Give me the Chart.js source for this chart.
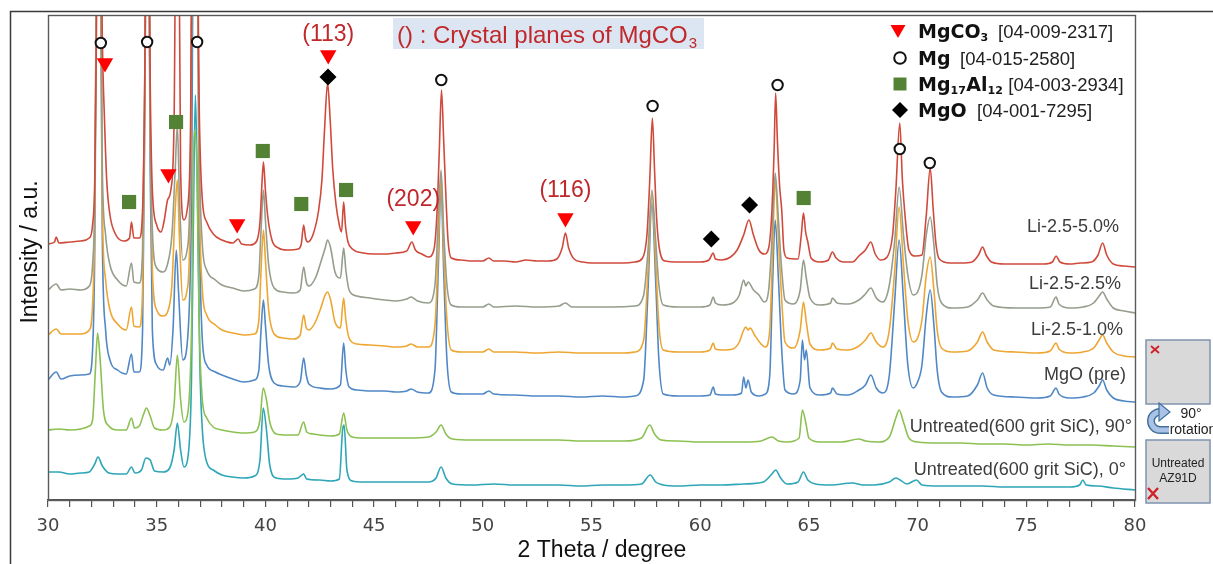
<!DOCTYPE html>
<html>
<head>
<meta charset="utf-8">
<script src="https://cdn.jsdelivr.net/npm/chart.js@4.4.1/dist/chart.umd.min.js"></script>
<style>
  html, body { margin: 0; padding: 0; background: #fff; }
  #wrap { width: 1213px; height: 564px; }
</style>
</head>
<body>
<div id="wrap"><canvas id="xrd" width="1213" height="564"></canvas></div>
<script>
// ---- XRD patterns: [2theta (deg), intensity (a.u., stacked)] ----
const li50 = [[30.0,256],[30.3,258],[30.38,263],[30.5,257],[31.0,258],[31.5,259],[31.9,262],[32.05,275],[32.15,320],[32.22,450],[32.3,620],[32.42,620],[32.5,460],[32.6,380],[32.7,320],[32.85,285],[33.1,266],[33.5,259],[33.75,262],[33.84,278],[33.95,262],[34.2,262],[34.35,290],[34.45,420],[34.53,640],[34.62,640],[34.7,420],[34.8,310],[35.0,275],[35.2,268],[35.35,280],[35.5,300],[35.65,310],[35.8,380],[35.9,620],[36.0,620],[36.1,330],[36.25,280],[36.4,290],[36.55,360],[36.65,620],[36.85,620],[36.95,400],[37.1,300],[37.3,278],[37.6,266],[38.0,260],[38.5,257],[38.75,261],[38.9,256],[39.3,255],[39.6,259],[39.75,278],[39.85,320],[39.91,338],[40.0,310],[40.1,285],[40.3,260],[40.6,252],[41.0,250],[41.5,251],[41.65,256],[41.76,275],[41.85,262],[41.95,258],[42.2,266],[42.45,290],[42.6,320],[42.72,370],[42.86,417],[42.98,380],[43.1,330],[43.25,295],[43.4,275],[43.5,268],[43.6,298],[43.68,275],[43.8,258],[44.0,251],[44.5,247],[45.0,246],[45.5,246],[46.0,247],[46.5,249],[46.74,258],[46.9,250],[47.2,246],[47.5,243],[47.75,250],[47.9,290],[48.0,350],[48.1,410],[48.2,360],[48.3,305],[48.4,260],[48.55,242],[49.0,240],[49.5,239],[50.0,239],[50.28,242],[50.5,239],[51.0,239],[51.5,238],[52.0,240],[52.5,239],[53.0,239],[53.4,241],[53.65,252],[53.8,267],[53.95,252],[54.2,241],[54.6,238],[55.0,237],[55.5,237],[56.0,237],[56.5,237],[57.0,238],[57.35,242],[57.55,265],[57.68,320],[57.8,382],[57.9,330],[58.0,280],[58.15,248],[58.4,239],[59.0,238],[59.5,238],[60.0,238],[60.4,240],[60.6,247],[60.7,241],[61.0,240],[61.4,243],[61.7,250],[62.0,265],[62.24,280],[62.45,265],[62.7,250],[62.95,246],[63.15,252],[63.3,290],[63.4,350],[63.47,407],[63.55,360],[63.65,315],[63.75,290],[63.85,250],[64.0,242],[64.5,241],[64.65,265],[64.75,287],[64.85,268],[64.95,258],[65.1,242],[65.5,238],[65.9,240],[66.08,248],[66.25,242],[66.6,238],[67.0,238],[67.3,244],[67.6,250],[67.85,258],[68.05,246],[68.3,240],[68.6,243],[68.85,265],[69.0,310],[69.18,377],[69.3,320],[69.42,285],[69.6,250],[69.9,244],[70.2,245],[70.4,285],[70.58,332],[70.72,290],[70.85,255],[71.0,241],[71.5,237],[72.0,237],[72.5,238],[72.8,245],[72.99,253],[73.15,245],[73.4,238],[74.0,236],[75.0,236],[75.8,236],[76.2,238],[76.37,244],[76.55,238],[77.0,236],[77.5,237],[78.0,238],[78.3,245],[78.51,257],[78.7,245],[79.0,236],[79.5,234],[80.0,233]];

const li25 = [[30.0,210],[30.38,216],[30.6,210],[31.0,211],[31.5,210],[31.9,214],[32.05,235],[32.15,300],[32.25,560],[32.4,560],[32.5,330],[32.65,265],[32.85,235],[33.2,220],[33.6,214],[33.84,237],[33.95,218],[34.2,217],[34.35,250],[34.45,420],[34.53,600],[34.62,600],[34.7,380],[34.8,270],[35.0,232],[35.3,228],[35.5,236],[35.7,265],[35.85,330],[35.95,375],[36.05,300],[36.2,240],[36.4,250],[36.55,330],[36.65,600],[36.85,600],[36.95,360],[37.1,255],[37.3,230],[37.7,220],[38.0,215],[38.5,212],[39.0,209],[39.5,211],[39.7,225],[39.8,270],[39.91,310],[40.0,280],[40.15,235],[40.4,212],[40.8,208],[41.3,207],[41.6,210],[41.76,233],[41.88,218],[42.0,214],[42.3,222],[42.55,238],[42.75,252],[42.86,260],[43.0,252],[43.2,228],[43.45,222],[43.6,252],[43.7,230],[43.85,210],[44.2,204],[44.8,202],[45.5,200],[46.0,199],[46.5,201],[46.7,203],[47.0,199],[47.5,197],[47.8,215],[47.95,280],[48.08,330],[48.2,270],[48.35,215],[48.55,195],[49.0,193],[50.0,193],[50.28,196],[50.5,193],[51.5,194],[52.5,193],[53.5,194],[53.8,197],[54.1,193],[55.0,193],[56.0,193],[57.0,194],[57.4,205],[57.6,250],[57.78,310],[57.95,260],[58.1,215],[58.3,195],[59.0,193],[60.0,193],[60.45,195],[60.6,203],[60.7,197],[61.0,195],[61.5,197],[61.8,205],[62.0,220],[62.1,214],[62.2,218],[62.45,210],[62.7,205],[62.95,198],[63.15,210],[63.3,260],[63.45,327],[63.6,280],[63.75,230],[63.9,200],[64.3,196],[64.6,210],[64.75,240],[64.88,222],[65.05,202],[65.5,195],[66.0,197],[66.08,202],[66.3,197],[66.8,196],[67.3,200],[67.6,206],[67.85,212],[68.1,202],[68.4,198],[68.7,215],[68.95,260],[69.15,313],[69.35,265],[69.55,225],[69.8,205],[70.0,208],[70.2,225],[70.4,265],[70.58,283],[70.75,255],[70.9,215],[71.1,197],[71.6,192],[72.3,193],[72.75,200],[72.99,207],[73.2,200],[73.5,194],[74.5,192],[75.5,192],[76.1,193],[76.37,203],[76.5,196],[77.0,192],[77.6,193],[78.1,197],[78.35,204],[78.51,208],[78.7,201],[79.0,192],[79.5,189],[80.0,187]];

const li10 = [[30.0,165],[30.38,171],[30.6,166],[31.0,166],[31.5,166],[31.9,170],[32.05,195],[32.15,280],[32.25,560],[32.4,560],[32.5,290],[32.65,220],[32.85,190],[33.2,176],[33.6,170],[33.84,193],[33.95,174],[34.2,173],[34.35,210],[34.45,400],[34.53,600],[34.62,600],[34.7,370],[34.8,230],[35.0,190],[35.3,184],[35.5,188],[35.7,215],[35.85,290],[35.95,320],[36.05,260],[36.2,200],[36.4,210],[36.55,300],[36.65,600],[36.85,600],[36.95,320],[37.1,210],[37.3,185],[37.7,175],[38.0,170],[38.5,167],[39.0,165],[39.5,166],[39.7,180],[39.8,230],[39.91,270],[40.0,240],[40.15,190],[40.4,166],[40.8,162],[41.3,161],[41.6,165],[41.76,185],[41.88,172],[42.0,170],[42.3,178],[42.55,192],[42.75,205],[42.86,208],[43.0,200],[43.2,178],[43.45,172],[43.6,202],[43.7,180],[43.85,162],[44.2,156],[44.8,155],[45.5,154],[46.0,153],[46.5,154],[46.7,156],[47.0,153],[47.5,153],[47.8,175],[47.95,250],[48.08,325],[48.2,250],[48.35,180],[48.55,150],[49.0,148],[50.0,148],[50.28,151],[50.5,148],[51.5,148],[52.5,147],[53.5,148],[54.5,147],[55.5,147],[56.5,147],[57.0,148],[57.4,160],[57.6,230],[57.78,307],[57.95,240],[58.1,175],[58.3,150],[59.0,148],[60.0,148],[60.45,150],[60.6,157],[60.7,151],[61.0,150],[61.5,151],[61.8,158],[62.0,170],[62.1,173],[62.2,170],[62.3,172],[62.5,165],[62.8,156],[63.0,153],[63.2,170],[63.32,240],[63.45,320],[63.6,260],[63.75,200],[63.9,158],[64.3,152],[64.6,170],[64.75,198],[64.88,178],[65.05,156],[65.5,150],[66.0,152],[66.08,157],[66.3,151],[66.8,150],[67.3,154],[67.6,160],[67.85,167],[68.1,158],[68.4,153],[68.7,170],[68.95,230],[69.15,293],[69.35,235],[69.55,180],[69.8,158],[70.0,162],[70.2,180],[70.4,225],[70.58,243],[70.75,210],[70.9,170],[71.1,152],[71.6,148],[72.3,149],[72.75,158],[72.99,168],[73.2,158],[73.5,150],[74.5,148],[75.5,147],[76.1,149],[76.37,157],[76.5,151],[77.0,147],[77.6,148],[78.1,152],[78.35,160],[78.51,165],[78.7,157],[79.0,148],[79.5,144],[80.0,143]];

const mgoPre = [[30.0,120],[30.38,128],[30.6,121],[31.0,124],[31.5,125],[31.9,126],[32.05,150],[32.15,250],[32.25,560],[32.4,560],[32.5,260],[32.65,170],[32.85,140],[33.2,130],[33.6,126],[33.84,146],[33.95,128],[34.2,128],[34.35,170],[34.45,380],[34.53,600],[34.62,600],[34.7,330],[34.8,170],[35.0,135],[35.3,130],[35.5,142],[35.6,135],[35.75,170],[35.9,250],[36.0,210],[36.2,140],[36.45,170],[36.6,300],[36.7,600],[36.85,600],[36.95,300],[37.1,160],[37.3,135],[37.7,128],[38.0,125],[38.5,121],[39.0,118],[39.5,120],[39.7,130],[39.8,170],[39.91,200],[40.0,175],[40.15,135],[40.4,117],[40.8,114],[41.3,113],[41.6,118],[41.76,142],[41.88,125],[42.0,116],[42.5,112],[43.0,111],[43.45,115],[43.6,157],[43.7,130],[43.85,113],[44.2,110],[44.8,109],[45.5,109],[46.0,108],[46.5,109],[46.7,111],[47.0,108],[47.5,107],[47.8,130],[47.95,230],[48.08,315],[48.2,230],[48.35,140],[48.55,108],[49.0,106],[50.0,106],[50.28,109],[50.5,106],[51.5,105],[52.5,104],[53.5,104],[54.5,103],[55.5,104],[56.5,103],[57.0,104],[57.4,120],[57.6,210],[57.78,297],[57.95,220],[58.1,140],[58.3,106],[59.0,104],[60.0,104],[60.45,105],[60.6,113],[60.7,106],[61.0,105],[61.5,105],[61.9,107],[62.0,123],[62.1,112],[62.2,120],[62.35,108],[62.7,104],[63.0,106],[63.2,125],[63.32,210],[63.45,280],[63.6,220],[63.75,150],[63.9,110],[64.3,106],[64.6,120],[64.7,160],[64.8,140],[64.88,150],[65.05,112],[65.5,105],[66.0,107],[66.08,112],[66.3,106],[66.8,105],[67.3,110],[67.6,115],[67.85,125],[68.1,112],[68.4,107],[68.7,125],[68.95,200],[69.15,260],[69.35,200],[69.55,135],[69.8,112],[70.0,118],[70.2,135],[70.4,185],[70.58,210],[70.75,175],[70.9,130],[71.1,108],[71.6,103],[72.3,104],[72.75,115],[72.99,127],[73.2,112],[73.5,105],[74.5,103],[75.5,102],[76.1,104],[76.37,112],[76.5,106],[77.0,102],[77.6,103],[78.1,107],[78.35,114],[78.51,120],[78.7,110],[79.0,102],[79.5,99],[80.0,98]];

const untreated90 = [[30.0,70],[30.5,71],[31.0,70],[31.5,71],[31.9,74],[32.05,80],[32.18,130],[32.28,167],[32.4,140],[32.55,90],[32.8,74],[33.2,70],[33.6,70],[33.84,82],[33.98,72],[34.2,74],[34.4,86],[34.53,92],[34.7,84],[34.9,72],[35.3,70],[35.6,73],[35.8,95],[35.95,145],[36.1,100],[36.25,78],[36.45,90],[36.6,170],[36.72,370],[36.85,330],[36.95,180],[37.1,100],[37.3,82],[37.6,73],[38.0,70],[38.5,68],[39.0,67],[39.5,68],[39.75,80],[39.9,112],[40.05,100],[40.2,78],[40.5,66],[41.0,65],[41.5,65],[41.76,78],[41.9,68],[42.2,66],[42.5,65],[43.0,64],[43.4,66],[43.6,87],[43.75,70],[44.0,63],[44.5,62],[45.5,62],[46.5,62],[47.5,63],[47.85,68],[48.08,75],[48.3,66],[48.6,61],[49.5,60],[50.5,60],[51.5,60],[52.5,60],[53.5,60],[54.5,59],[55.5,59],[56.5,59],[57.3,62],[57.68,75],[57.9,66],[58.2,60],[59.0,59],[60.0,58],[61.0,58],[62.0,58],[62.8,59],[63.3,63],[63.6,59],[64.0,58],[64.55,62],[64.7,90],[64.85,78],[65.0,62],[65.5,58],[66.5,58],[67.3,61],[67.6,59],[68.2,58],[68.7,63],[69.0,82],[69.15,90],[69.35,78],[69.6,62],[70.0,58],[71.0,57],[72.0,57],[73.0,56],[74.0,56],[75.0,55],[76.0,56],[77.0,55],[78.0,55],[79.0,54],[80.0,53]];

const untreated0 = [[30.0,28],[30.5,28],[31.0,26],[31.5,27],[31.9,28],[32.15,36],[32.3,43],[32.5,34],[32.8,27],[33.2,26],[33.6,26],[33.84,33],[34.0,27],[34.3,30],[34.5,42],[34.7,40],[34.9,29],[35.3,28],[35.6,32],[35.8,50],[35.95,77],[36.1,50],[36.25,33],[36.45,45],[36.6,120],[36.7,300],[36.78,405],[36.88,300],[36.98,140],[37.1,70],[37.3,38],[37.6,30],[38.0,25],[38.5,23],[39.0,22],[39.5,24],[39.75,40],[39.9,92],[40.05,70],[40.2,35],[40.5,22],[41.0,21],[41.5,22],[41.76,26],[41.9,21],[42.5,20],[43.0,19],[43.4,21],[43.55,70],[43.62,75],[43.75,30],[44.0,19],[44.5,18],[45.5,18],[46.5,18],[47.5,18],[47.85,22],[48.08,33],[48.3,22],[48.6,16],[49.5,15],[50.5,16],[51.5,15],[52.5,15],[53.5,15],[54.5,14],[55.5,15],[56.5,15],[57.3,16],[57.7,25],[57.95,18],[58.3,15],[59.0,14],[60.0,15],[61.0,15],[62.0,16],[62.9,18],[63.3,26],[63.47,30],[63.7,22],[64.0,16],[64.5,18],[64.75,28],[64.95,20],[65.3,16],[66.0,15],[67.0,17],[67.5,15],[68.0,15],[68.7,18],[69.0,22],[69.2,20],[69.5,16],[69.95,20],[70.2,15],[71.0,14],[72.0,14],[73.0,14],[74.0,13],[75.0,13],[76.0,13],[77.0,13],[77.45,15],[77.6,20],[77.75,15],[78.3,14],[79.0,12],[80.0,10]];

// ---- Phase markers: [2theta, height in a.u.] ----
const mgco3Marks = [[32.62,437],[35.54,326],[38.70,276],[42.89,445],[46.80,274],[53.80,282]];
const mgMarks = [[32.43,457],[34.56,458],[36.86,458],[48.09,420],[57.81,394],[63.56,415],[69.18,351],[70.56,337]];
const mg17al12Marks = [[33.73,298],[35.89,378],[39.88,349],[41.65,296],[43.71,310],[64.76,302]];
const mgoMarks = [[42.88,423],[60.51,261],[62.27,295]];

// ---- MgCO3 crystal-plane labels: [text, 2theta, height in a.u.] ----
const planeLabels = [['(113)',42.89,465],['(202)',46.80,300],['(116)',53.80,309]];

// ---- Sample names and legend entries ----
const sampleNames = ['Li-2.5-5.0%','Li-2.5-2.5%','Li-2.5-1.0%','MgO (pre)','Untreated(600 grit SiC), 90°','Untreated(600 grit SiC), 0°'];
const phaseNames = [['MgCO','3','',''],['Mg','','',''],['Mg','17','Al','12'],['MgO','','','']];
const pdfCards = ['[04-009-2317]','[04-015-2580]','[04-003-2934]','[04-001-7295]'];

const traceColors = ['#d04a3c','#959d8c','#eea633','#5088c6','#8cc152','#2ea6b7'];
const patterns = [li50, li25, li10, mgoPre, untreated90, untreated0];
const toXY = arr => arr.map(p => ({x: p[0], y: p[1]}));

const datasets = [];
// phase markers sit above the traces
datasets.push({type:'scatter', data: toXY(mgco3Marks), pointStyle:'triangle', rotation:180, radius:9.5,
  backgroundColor:'#ff0000', borderColor:'#ff0000', borderWidth:0, order:0});
datasets.push({type:'scatter', data: toXY(mgMarks), pointStyle:'circle', radius:5.2,
  backgroundColor:'#ffffff', borderColor:'#111111', borderWidth:2, order:0});
datasets.push({type:'scatter', data: toXY(mg17al12Marks), pointStyle:'rect', radius:10,
  backgroundColor:'#548235', borderColor:'#548235', borderWidth:0, order:0});
datasets.push({type:'scatter', data: toXY(mgoMarks), pointStyle:'rectRot', radius:8.5,
  backgroundColor:'#000000', borderColor:'#000000', borderWidth:0, order:0});
patterns.forEach((p, i) => {
  datasets.push({type:'line', label: sampleNames[i], data: toXY(p), borderColor: traceColors[i],
    borderWidth: 1.6, pointRadius: 0, cubicInterpolationMode: 'monotone', fill: false, order: i + 1});
});

// decorations: frames, texts, legend, specimen sketch
const decor = {
  id: 'decor',
  afterDraw(chart) {
    const ctx = chart.ctx, a = chart.chartArea;
    const sx = chart.scales.x, sy = chart.scales.y;
    ctx.save();

    // outer figure frame
    ctx.strokeStyle = '#3a3a3a'; ctx.lineWidth = 1.5;
    ctx.beginPath(); ctx.moveTo(10.5, 564); ctx.lineTo(10.5, 11.5); ctx.lineTo(1213, 11.5); ctx.stroke();
    // plot frame
    ctx.strokeStyle = '#5a5a5a'; ctx.lineWidth = 1.4;
    ctx.strokeRect(a.left + 0.5, a.top + 0.5, a.right - a.left, a.bottom - a.top);

    // axis titles
    ctx.fillStyle = '#111';
    ctx.font = '23px "Liberation Sans", Arial, sans-serif';
    ctx.textAlign = 'center'; ctx.textBaseline = 'middle';
    ctx.fillText('2 Theta / degree', 602, 551);
    ctx.save();
    ctx.translate(31, 252); ctx.rotate(-Math.PI / 2);
    ctx.fillText('Intensity / a.u.', 0, 0);
    ctx.restore();

    // crystal-plane note box
    ctx.fillStyle = '#dce6f2';
    ctx.fillRect(393, 18, 311, 31);
    ctx.fillStyle = '#c0282b';
    ctx.textAlign = 'left'; ctx.textBaseline = 'alphabetic';
    ctx.font = '24px "Liberation Sans", Arial, sans-serif';
    const note = '() : Crystal planes of MgCO';
    ctx.fillText(note, 397, 43);
    const nw = ctx.measureText(note).width;
    ctx.font = '15px "Liberation Sans", Arial, sans-serif';
    ctx.fillText('3', 397 + nw + 1, 48);

    // plane labels above MgCO3 markers
    ctx.font = '23px "Liberation Sans", Arial, sans-serif';
    ctx.textAlign = 'center'; ctx.textBaseline = 'middle';
    planeLabels.forEach(l => {
      ctx.fillText(l[0], sx.getPixelForValue(l[1]), sy.getPixelForValue(l[2]));
    });

    // sample names
    ctx.fillStyle = '#3c3c3c';
    ctx.font = '18px "Liberation Sans", Arial, sans-serif';
    ctx.textAlign = 'right';
    const nameX = [1119, 1121, 1123, 1126, 1132, 1126];
    const nameY = [227, 284, 330, 375, 427, 470];
    sampleNames.forEach((n, i) => ctx.fillText(n, nameX[i], nameY[i]));

    // legend
    const rows = [31, 58, 84, 110];
    const drawMark = (style, x, y) => {
      ctx.save();
      if (style === 0) {
        ctx.fillStyle = '#ff0000';
        ctx.beginPath(); ctx.moveTo(x - 7.5, y - 6); ctx.lineTo(x + 7.5, y - 6); ctx.lineTo(x, y + 7); ctx.closePath(); ctx.fill();
      } else if (style === 1) {
        ctx.strokeStyle = '#111'; ctx.lineWidth = 2; ctx.fillStyle = '#fff';
        ctx.beginPath(); ctx.arc(x, y, 5.8, 0, Math.PI * 2); ctx.fill(); ctx.stroke();
      } else if (style === 2) {
        ctx.fillStyle = '#548235'; ctx.fillRect(x - 6.5, y - 6.5, 13, 13);
      } else {
        ctx.fillStyle = '#000';
        ctx.beginPath(); ctx.moveTo(x, y - 8); ctx.lineTo(x + 8, y); ctx.lineTo(x, y + 8); ctx.lineTo(x - 8, y); ctx.closePath(); ctx.fill();
      }
      ctx.restore();
    };
    const cardX = [998, 960, 1008, 977];
    ctx.textAlign = 'left'; ctx.textBaseline = 'alphabetic';
    rows.forEach((y, i) => {
      drawMark(i, i === 0 ? 898 : 900, y);
      let x = 918;
      const parts = phaseNames[i];
      const base = y + 7;
      for (let k = 0; k < parts.length; k++) {
        if (!parts[k]) continue;
        const sub = (k % 2 === 1);
        ctx.fillStyle = '#111';
        ctx.font = sub ? 'bold 11px "DejaVu Sans", sans-serif' : 'bold 19px "DejaVu Sans", sans-serif';
        ctx.fillText(parts[k], x, sub ? base + 3 : base);
        x += ctx.measureText(parts[k]).width + (sub ? 0.5 : 0);
      }
      ctx.fillStyle = '#222';
      ctx.font = '18.5px "Liberation Sans", Arial, sans-serif';
      ctx.fillText(pdfCards[i], Math.max(cardX[i], x + 5), base);
    });

    // specimen sketch: two plates and a rotation arrow
    ctx.fillStyle = '#d9d9d9'; ctx.strokeStyle = '#7f93ad'; ctx.lineWidth = 1.5;
    ctx.fillRect(1146, 340, 64, 64); ctx.strokeRect(1146, 340, 64, 64);
    ctx.fillRect(1146, 440, 64, 63); ctx.strokeRect(1146, 440, 64, 63);
    ctx.strokeStyle = '#d0202a'; ctx.lineWidth = 1.8;
    ctx.beginPath(); ctx.moveTo(1151, 346); ctx.lineTo(1159, 353); ctx.moveTo(1159, 346); ctx.lineTo(1151, 353); ctx.stroke();
    ctx.lineWidth = 2.4;
    ctx.beginPath(); ctx.moveTo(1148, 488); ctx.lineTo(1158, 499); ctx.moveTo(1158, 488); ctx.lineTo(1148, 499); ctx.stroke();
    ctx.fillStyle = '#222';
    ctx.font = '12px "Liberation Sans", Arial, sans-serif';
    ctx.textAlign = 'center'; ctx.textBaseline = 'middle';
    ctx.fillText('Untreated', 1178, 464);
    ctx.fillText('AZ91D', 1178, 479);
    // curved arrow
    ctx.lineCap = 'butt';
    const arrowPath = () => {
      ctx.beginPath();
      ctx.arc(1160, 421, 9, -Math.PI / 2, Math.PI / 2, true);
      ctx.lineTo(1169, 430);
    };
    ctx.strokeStyle = '#41719c'; ctx.lineWidth = 8; arrowPath(); ctx.stroke();
    ctx.strokeStyle = '#a9c2e6'; ctx.lineWidth = 5; arrowPath(); ctx.stroke();
    ctx.fillStyle = '#a9c2e6'; ctx.strokeStyle = '#41719c'; ctx.lineWidth = 1.2;
    ctx.beginPath(); ctx.moveTo(1159, 403); ctx.lineTo(1170, 412); ctx.lineTo(1159, 421); ctx.closePath(); ctx.fill(); ctx.stroke();
    ctx.fillStyle = '#222';
    ctx.font = '14px "Liberation Sans", Arial, sans-serif';
    ctx.fillText('90°', 1191, 414);
    ctx.fillText('rotation', 1193, 430);

    ctx.restore();
  }
};

new Chart(document.getElementById('xrd'), {
  type: 'line',
  data: { datasets },
  options: {
    responsive: false,
    devicePixelRatio: 1,
    animation: false,
    events: [],
    layout: { padding: { left: 48, right: 78, top: 15, bottom: 0 } },
    plugins: { legend: { display: false }, tooltip: { enabled: false }, title: { display: false } },
    scales: {
      x: {
        type: 'linear', min: 30, max: 80,
        afterFit: s => { s.height = 64; },
        ticks: {
          stepSize: 1, autoSkip: false, maxRotation: 0, padding: 9,
          color: '#444', font: { family: '"DejaVu Sans", sans-serif', size: 18 },
          callback: v => (v % 5 === 0 ? String(v) : '')
        },
        grid: { drawOnChartArea: false, drawTicks: true, tickLength: 7, color: '#555', lineWidth: 1.2 },
        border: { display: true, color: '#555', width: 1.4 }
      },
      y: { display: false, min: 0, max: 485 }
    }
  },
  plugins: [decor]
});
</script>
</body>
</html>
